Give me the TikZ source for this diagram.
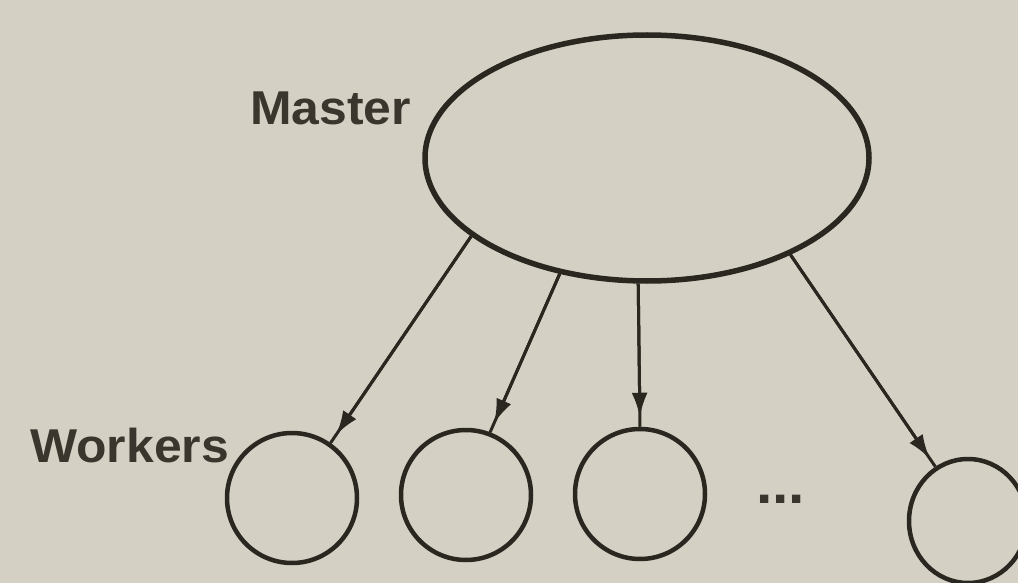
\documentclass[tikz,border=0pt]{standalone}
\usepackage{fontspec}
\setmainfont{Liberation Sans}
\usetikzlibrary{shapes.geometric,arrows.meta}
\definecolor{paper}{RGB}{212,209,196}
\definecolor{ink}{RGB}{42,38,32}
\definecolor{textink}{RGB}{58,54,46}
\tikzset{
  masternode/.style={draw=ink, line width=5.5pt, ellipse, inner sep=0pt,
    minimum width=444pt, minimum height=246pt},
  workernode/.style={draw=ink, line width=4.5pt, circle, inner sep=0pt,
    minimum size=130pt},
  label/.style={text=textink, inner sep=0pt, anchor=base west,
    font=\fontsize{47.5}{50}\selectfont\bfseries, xscale=1.05},
  link/.style={draw=ink, line width=3pt},
  linkhead/.style={draw=ink, line width=3pt,
    -{Latex[length=24pt,width=16pt]}, shorten >=10pt}
}
\begin{document}
\begin{tikzpicture}[x=1pt,y=-1pt]
\clip (0,0) rectangle (1018,583);
\fill[paper] (0,0) rectangle (1018,583);
\useasboundingbox (0,0) rectangle (1018,583);

\node[masternode] (m) at (647,158) {};
\node[workernode] (w1) at (292,498) {};
\node[workernode] (w2) at (466,495) {};
\node[workernode] (w3) at (640,494) {};
\node[workernode, ellipse, minimum width=118pt, minimum height=124pt] (w4) at (968,521) {};

\node[label] (ml) at (250,125) {Master};
\node[label] (wl) at (30,462) {Workers};
\node[label, font=\fontsize{56}{58}\selectfont\bfseries] (dots) at (756,503) {...};

\draw[link] (m.204.7) -- (w1.55.3);
\draw[linkhead] (m.204.7) -- (w1.55.3);
\draw[link] (m.233.2) -- (w2.69.7);
\draw[linkhead] (m.233.2) -- (w2.69.7);
\draw[link] (m.266.3) -- (w3.90);
\draw[linkhead] (m.266.3) -- (w3.90);
\draw[link] (m.-34.6) -- (w4.121.6);
\draw[linkhead] (m.-34.6) -- (w4.121.6);
\end{tikzpicture}
\end{document}
